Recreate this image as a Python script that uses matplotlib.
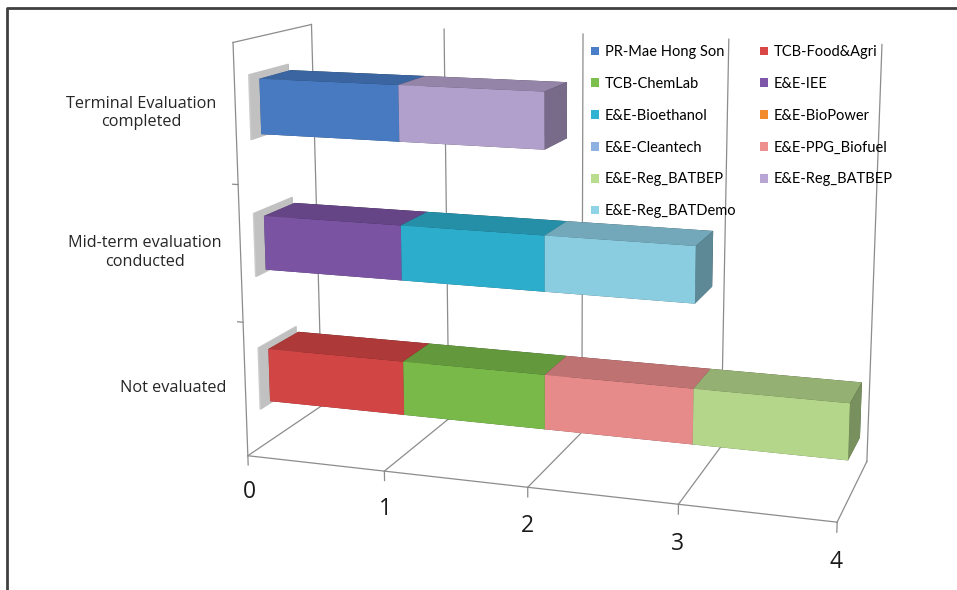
import numpy as np
import matplotlib.pyplot as plt
from matplotlib.colors import LightSource
from matplotlib.lines import Line2D
from matplotlib.patches import Patch
from mpl_toolkits.mplot3d import proj3d

plt.rcParams['font.family'] = ['Open Sans', 'DejaVu Sans']

# categories from bottom to top
categories = ['Not evaluated', 'Mid-term evaluation\nconducted', 'Terminal Evaluation\ncompleted']
series = ['PR-Mae Hong Son', 'TCB-Food&Agri', 'TCB-ChemLab', 'E&E-IEE', 'E&E-Bioethanol',
          'E&E-BioPower', 'E&E-Cleantech', 'E&E-PPG_Biofuel', 'E&E-Reg_BATBEP',
          'E&E-Reg_BATBEP', 'E&E-Reg_BATDemo']
# one row per series: [Not evaluated, Mid-term, Terminal]
values = [
    [0, 0, 1],
    [1, 0, 0],
    [1, 0, 0],
    [0, 1, 0],
    [0, 1, 0],
    [0, 0, 0],
    [0, 0, 0],
    [1, 0, 0],
    [1, 0, 0],
    [0, 0, 1],
    [0, 1, 0],
]
colors = ['#4A7EC9', '#D94747', '#7DBF4C', '#7E57A8', '#2FB3D3', '#F28A2E',
          '#8DB1E0', '#EE8F8F', '#B9DD8F', '#B8A5D3', '#8FD3E8']
xticks = [0, 1, 2, 3, 4]

ncat = len(categories)
xmax = xticks[-1]
ztop = 3.46   # room above the walls so the camera aims like Excel's
grid = '#8c8c8c'

fig = plt.figure(figsize=(9.57, 5.90), dpi=100)
ax = fig.add_axes([0.0726, 0.1068, 1, 1], projection='3d',
                  proj_type='persp', focal_length=0.5874)
ax.set_xlim(0, xmax)
ax.set_ylim(0, 1)
ax.set_zlim(0, ztop)
ax.set_box_aspect((4.25, 1.25, 2.975 * ztop / 3), zoom=1.324)
ax.view_init(elev=12, azim=-72)
ax.set_xticks([]); ax.set_yticks([]); ax.set_zticks([])
ax.patch.set_visible(False)
ax.set_axis_off()

M = ax.get_proj()


def label3d(x, y, z, s, **kw):
    # project the 3d point and put a plain 2d text there
    xp, yp, _ = proj3d.proj_transform(x, y, z, M)
    ax.text2D(float(xp), float(yp), s, transform=ax.transData, **kw)


# walls and gridlines
for t in xticks:
    ax.plot([t, t], [0, 1], [0, 0], color=grid, lw=0.9, clip_on=False)
    ax.plot([t, t], [1, 1], [0, ncat], color=grid, lw=0.9, clip_on=False)
    ax.plot([t, t], [0, 0], [0, -0.07], color=grid, lw=0.9, clip_on=False)
    label3d(t, 0, -0.28, str(t), ha='center', va='center', fontsize=16.5, color='#1a1a1a')
ax.plot([0, xmax], [0, 0], [0, 0], color=grid, lw=0.9, clip_on=False)
ax.plot([0, 0], [0, 0], [0, ncat], color=grid, lw=0.9, clip_on=False)
ax.plot([0, 0], [0, 1], [ncat, ncat], color=grid, lw=0.9, clip_on=False)
for z in range(1, ncat):
    ax.plot([0, -0.04], [0, 0], [z, z], color=grid, lw=0.9, clip_on=False)

# stacked bars (plus a soft grey shadow on the left wall, like Excel's)
xs, ys, zs, dxs, dys, dzs, cs = [], [], [], [], [], [], []
for ci in range(ncat):
    xs.append(-0.01); ys.append(0.18); zs.append(ci + 0.28)
    dxs.append(0.01); dys.append(0.5); dzs.append(0.47)
    cs.append((0.6, 0.6, 0.6, 0.22))
    left = 0
    for si in range(len(series)):
        v = values[si][ci]
        if v > 0:
            xs.append(left); ys.append(0.3); zs.append(ci + 0.3)
            dxs.append(v); dys.append(0.4); dzs.append(0.4)
            cs.append(colors[si])
            left += v
ls = LightSource(azdeg=180, altdeg=25)
bars = ax.bar3d(xs, ys, zs, dxs, dys, dzs, color=cs, shade=True, lightsource=ls, linewidth=0)
bars.set_clip_on(False)

for ci, lab in enumerate(categories):
    label3d(-0.14, 0, ci + 0.5, lab, ha='right', va='center', ma='center',
            fontsize=11.7, color='#262626')

order = [0, 2, 4, 6, 8, 10, 1, 3, 5, 7, 9]
handles = [Patch(facecolor=colors[i], label=series[i]) for i in order]
fig.legend(handles=handles, ncol=2, loc='upper left', bbox_to_anchor=(578 / 957, 1 - 32 / 590),
           frameon=False, prop={'family': ['Lato', 'DejaVu Sans'], 'size': 10.5},
           handlelength=0.55, handleheight=0.55,
           handletextpad=0.4, labelspacing=1.22, columnspacing=1.58)

# chart border
fig.add_artist(Line2D([7.5 / 957, 7.5 / 957, 1], [0, 1 - 8 / 590, 1 - 8 / 590],
                      transform=fig.transFigure, color='#404040', lw=2))

fig.savefig('out.png', dpi=100)
